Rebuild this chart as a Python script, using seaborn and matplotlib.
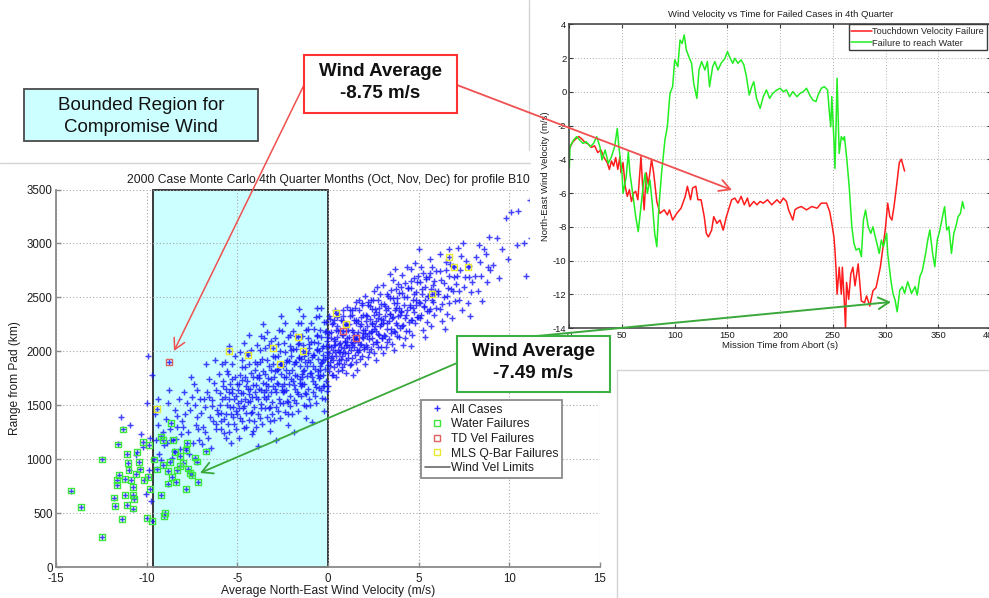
import matplotlib
matplotlib.use("Agg")
import matplotlib.pyplot as plt
import seaborn as sns
import pandas as pd
from matplotlib.patches import Rectangle, FancyArrowPatch
from matplotlib.lines import Line2D

# ------------------------------------------------------------------ data
# Monte Carlo cloud: (average NE wind velocity m/s, range from pad km)
cloud_points = [
    (-11.4, 1390), (-10.9, 1320), (-10.3, 1230), (-10.0, 1520), (-9.9, 1960), (-9.7, 1780),
    (-10.2, 1110), (-9.8, 1200), (-10.6, 1040), (-9.85, 900), (-10.05, 680), (-9.75, 610),
    (-9.5, 1180), (-9.3, 1050), (-9.4, 1320), (-9.1, 1250), (-9.2, 990), (-9.55, 1420), (-9.05, 1130), (-9.35, 1560),
    (-8.9, 1150), (-8.7, 1280), (-8.5, 1080), (-8.3, 1400), (-8.8, 1520), (-8.1, 1230), (-8.6, 1010), (-8.2, 1560),
    (-8.4, 1190), (-8.05, 1350), (-8.75, 1640), (-8.35, 1300),
    (-7.9, 1420), (-7.7, 1250), (-7.5, 1580), (-7.3, 1320), (-7.1, 1180), (-7.85, 1100), (-7.6, 1460), (-7.4, 1700),
    (-7.2, 1390), (-7.05, 1560), (-7.95, 1620), (-7.65, 1050), (-7.35, 1500), (-7.15, 1280), (-7.55, 1760),
    (-6.9, 1300), (-6.8, 1480), (-6.7, 1620), (-6.6, 1200), (-6.5, 1390), (-6.4, 1550), (-6.3, 1710), (-6.2, 1280),
    (-6.1, 1460), (-6.95, 1140), (-6.75, 1880), (-6.55, 1580), (-6.45, 1100), (-6.35, 1350), (-6.25, 1920),
    (-6.15, 1640), (-6.05, 1420), (-6.85, 1560),
    (-5.95, 1500), (-5.9, 1350), (-5.8, 1680), (-5.75, 1240), (-5.7, 1580), (-5.6, 1420), (-5.55, 1820), (-5.5, 1330),
    (-5.45, 1620), (-5.4, 1480), (-5.35, 1150), (-5.3, 1740), (-5.25, 1390), (-5.2, 1560), (-5.15, 1960), (-5.1, 1450),
    (-5.05, 1280), (-5.85, 1880), (-5.65, 1200), (-5.28, 1650), (-5.48, 2050), (-5.02, 1700),
    (-4.95, 1520), (-4.9, 1700), (-4.85, 1380), (-4.8, 1610), (-4.75, 1850), (-4.7, 1470), (-4.65, 1290), (-4.6, 1760),
    (-4.55, 1560), (-4.5, 1430), (-4.45, 1980), (-4.4, 1650), (-4.35, 1360), (-4.3, 1540), (-4.25, 1800), (-4.2, 1230),
    (-4.15, 1690), (-4.1, 1480), (-4.05, 1900), (-4.92, 1200), (-4.62, 2080), (-4.38, 1600), (-4.18, 1440),
    (-4.72, 1730), (-4.02, 1620),
    (-3.95, 1580), (-3.9, 1760), (-3.85, 1420), (-3.8, 1650), (-3.75, 1900), (-3.7, 1510), (-3.65, 1330), (-3.6, 1820),
    (-3.55, 1620), (-3.5, 1470), (-3.45, 2030), (-3.4, 1700), (-3.35, 1390), (-3.3, 1590), (-3.25, 1860), (-3.2, 1260),
    (-3.15, 1740), (-3.1, 1530), (-3.05, 1960), (-3.98, 1300), (-3.68, 2140), (-3.42, 1640), (-3.22, 1480),
    (-3.78, 1780), (-3.02, 1680), (-3.58, 2250), (-3.88, 1120), (-3.12, 2100),
    (-2.95, 1650), (-2.9, 1820), (-2.85, 1480), (-2.8, 1710), (-2.75, 1960), (-2.7, 1560), (-2.65, 1380), (-2.6, 1880),
    (-2.55, 1680), (-2.5, 1520), (-2.45, 2080), (-2.4, 1760), (-2.35, 1440), (-2.3, 1640), (-2.25, 1920), (-2.2, 1320),
    (-2.15, 1800), (-2.1, 1590), (-2.05, 2010), (-2.98, 1360), (-2.68, 2200), (-2.42, 1700), (-2.22, 1530),
    (-2.78, 1840), (-2.02, 1740), (-2.58, 2330), (-2.88, 1180), (-2.12, 2150), (-2.48, 1620), (-2.32, 1900),
    (-1.95, 1720), (-1.9, 1880), (-1.85, 1550), (-1.8, 1780), (-1.75, 2020), (-1.7, 1620), (-1.65, 1450), (-1.6, 1940),
    (-1.55, 1740), (-1.5, 1590), (-1.45, 2140), (-1.4, 1820), (-1.35, 1500), (-1.3, 1700), (-1.25, 1980), (-1.2, 1380),
    (-1.15, 1860), (-1.1, 1650), (-1.05, 2070), (-1.98, 1420), (-1.68, 2260), (-1.42, 1760), (-1.22, 1600),
    (-1.78, 1900), (-1.02, 1800), (-1.58, 2390), (-1.88, 1250), (-1.12, 2210), (-1.48, 1680), (-1.32, 1960),
    (-1.62, 2080), (-1.08, 1920),
    (-0.95, 1800), (-0.9, 1950), (-0.85, 1620), (-0.8, 1860), (-0.75, 2090), (-0.7, 1700), (-0.65, 1520), (-0.6, 2010),
    (-0.55, 1820), (-0.5, 1660), (-0.45, 2200), (-0.4, 1890), (-0.35, 1570), (-0.3, 1780), (-0.25, 2050), (-0.2, 1450),
    (-0.15, 1930), (-0.1, 1720), (-0.05, 2130), (-0.98, 1500), (-0.68, 2320), (-0.42, 1830), (-0.22, 1680),
    (-0.78, 1970), (-0.02, 1870), (-0.58, 2400), (-0.88, 1340), (-0.12, 2270), (-0.48, 1750), (-0.32, 2030),
    (-0.62, 2150), (-0.08, 1990), (-0.28, 1920), (-0.18, 2180), (-0.38, 1640),
    (0.05, 2050), (0.1, 1900), (0.15, 2180), (0.2, 1780), (0.25, 2010), (0.3, 2260), (0.35, 1850), (0.4, 2100),
    (0.45, 1960), (0.5, 2320), (0.55, 1820), (0.6, 2070), (0.65, 2200), (0.7, 1930), (0.75, 2150), (0.8, 1990),
    (0.85, 2380), (0.9, 1880), (0.95, 2090), (0.02, 1680), (0.12, 2300), (0.22, 1960), (0.32, 2060), (0.42, 1760),
    (0.52, 2230), (0.62, 1920), (0.72, 2040), (0.82, 2280), (0.92, 1980), (0.18, 2120), (0.38, 2380), (0.58, 1990),
    (0.78, 1850), (0.98, 2190), (0.08, 1820),
    (1.05, 2120), (1.1, 1980), (1.15, 2250), (1.2, 1870), (1.25, 2090), (1.3, 2340), (1.35, 1940), (1.4, 2180),
    (1.45, 2040), (1.5, 2400), (1.55, 1900), (1.6, 2150), (1.65, 2280), (1.7, 2010), (1.75, 2230), (1.8, 2070),
    (1.85, 2450), (1.9, 1960), (1.95, 2170), (1.02, 1800), (1.22, 2380), (1.42, 2110), (1.62, 1830), (1.82, 2320),
    (1.98, 2040), (1.12, 2200), (1.32, 2060), (1.52, 2260), (1.72, 2480), (1.92, 2120), (1.38, 1780), (1.58, 2010),
    (2.05, 2200), (2.1, 2060), (2.15, 2330), (2.2, 1950), (2.25, 2170), (2.3, 2420), (2.35, 2020), (2.4, 2260),
    (2.45, 2120), (2.5, 2480), (2.55, 1980), (2.6, 2230), (2.65, 2360), (2.7, 2090), (2.75, 2310), (2.8, 2150),
    (2.85, 2530), (2.9, 2040), (2.95, 2250), (2.02, 1880), (2.22, 2460), (2.42, 2190), (2.62, 1920), (2.82, 2400),
    (2.98, 2120), (2.12, 2280), (2.52, 2340), (2.72, 2600),
    (3.05, 2290), (3.1, 2150), (3.15, 2420), (3.2, 2040), (3.25, 2260), (3.3, 2510), (3.35, 2110), (3.4, 2350),
    (3.45, 2210), (3.5, 2570), (3.55, 2070), (3.6, 2320), (3.65, 2450), (3.7, 2180), (3.75, 2400), (3.8, 2240),
    (3.85, 2620), (3.9, 2130), (3.95, 2340), (3.02, 1980), (3.42, 2720), (3.62, 2010), (3.82, 2490), (3.22, 2380),
    (3.72, 2760),
    (4.05, 2370), (4.1, 2230), (4.2, 2500), (4.25, 2120), (4.3, 2340), (4.4, 2590), (4.45, 2190), (4.5, 2430),
    (4.55, 2290), (4.6, 2650), (4.65, 2150), (4.7, 2400), (4.75, 2530), (4.8, 2260), (4.85, 2480), (4.9, 2320),
    (4.95, 2700), (4.15, 2060), (4.35, 2780), (4.58, 2050), (4.78, 2820), (4.02, 2600),
    (5.05, 2450), (5.1, 2310), (5.2, 2580), (5.25, 2200), (5.3, 2420), (5.4, 2670), (5.45, 2270), (5.5, 2510),
    (5.55, 2370), (5.6, 2730), (5.7, 2230), (5.75, 2480), (5.8, 2610), (5.85, 2340), (5.9, 2560), (5.95, 2400),
    (5.15, 2780), (5.35, 2130), (5.65, 2860), (5.02, 2950),
    (6.05, 2530), (6.15, 2390), (6.25, 2660), (6.3, 2280), (6.4, 2500), (6.5, 2750), (6.55, 2350), (6.6, 2590),
    (6.7, 2450), (6.75, 2810), (6.85, 2310), (6.9, 2560), (6.95, 2690), (6.2, 2900), (6.45, 2210), (6.65, 2950),
    (7.05, 2620), (7.2, 2480), (7.3, 2750), (7.4, 2380), (7.5, 2600), (7.6, 2840), (7.7, 2450), (7.8, 2690),
    (7.9, 2550), (7.15, 2960), (7.45, 3000), (7.85, 2330),
    (8.1, 2700), (8.25, 2560), (8.4, 2830), (8.5, 2470), (8.6, 2950), (8.75, 2640), (8.9, 3060), (8.3, 2990),
    (8.8, 2780),
    (9.1, 2800), (9.3, 3050), (9.45, 2680), (9.6, 2950), (9.8, 3240), (9.9, 2860),
    (10.1, 3290), (10.4, 2990), (10.5, 3300), (10.8, 3000), (10.9, 2700), (11.15, 3400), (11.2, 3050), (11.4, 2990),
]

# denser core of the cloud
cloud_core_points = [
    (-8.95, 1370), (-8.65, 1180), (-8.45, 1460), (-8.15, 1090), (-7.98, 1300), (-7.78, 1520), (-7.45, 1150),
    (-7.25, 1640), (-6.98, 1430), (-6.78, 1250), (-6.58, 1740), (-6.38, 1490), (-6.18, 1330), (-6.02, 1790),
    (-5.97, 1610), (-5.92, 1430), (-5.83, 1560), (-5.78, 1720), (-5.71, 1370), (-5.63, 1650), (-5.58, 1500),
    (-5.52, 1790), (-5.88, 1280), (-5.68, 1900),
    (-5.46, 1560), (-5.41, 1700), (-5.37, 1420), (-5.31, 1610), (-5.27, 1880), (-5.22, 1480), (-5.17, 1330),
    (-5.12, 1760), (-5.08, 1590), (-5.03, 1420), (-5.44, 1250),
    (-4.97, 1640), (-4.93, 1470), (-4.87, 1780), (-4.82, 1540), (-4.77, 1350), (-4.73, 1920), (-4.68, 1610),
    (-4.63, 1490), (-4.58, 1850), (-4.53, 1680), (-4.51, 1300), (-4.88, 1990),
    (-4.47, 1720), (-4.42, 1530), (-4.37, 1880), (-4.32, 1650), (-4.27, 1430), (-4.22, 2010), (-4.17, 1580),
    (-4.12, 1760), (-4.07, 1350), (-4.03, 1830), (-4.33, 2150), (-4.14, 1260),
    (-3.97, 1690), (-3.93, 1880), (-3.87, 1560), (-3.83, 1750), (-3.77, 2010), (-3.72, 1640), (-3.67, 1470),
    (-3.63, 1930), (-3.57, 1710), (-3.53, 1580), (-3.51, 2120), (-3.74, 1380), (-3.91, 2060),
    (-3.47, 1790), (-3.43, 1560), (-3.37, 1920), (-3.33, 1680), (-3.27, 1470), (-3.23, 2060), (-3.17, 1620),
    (-3.13, 1830), (-3.07, 1420), (-3.03, 1880), (-3.38, 2180), (-3.19, 1350), (-3.29, 1750),
    (-2.97, 1760), (-2.93, 1950), (-2.87, 1620), (-2.83, 1830), (-2.77, 2070), (-2.73, 1700), (-2.67, 1520),
    (-2.63, 2000), (-2.57, 1790), (-2.53, 1640), (-2.51, 2190), (-2.74, 1450), (-2.91, 2120), (-2.6, 1880),
    (-2.47, 1860), (-2.43, 1630), (-2.37, 1990), (-2.33, 1760), (-2.27, 1540), (-2.23, 2130), (-2.17, 1700),
    (-2.13, 1910), (-2.07, 1490), (-2.03, 1960), (-2.38, 2260), (-2.19, 1420), (-2.29, 1830), (-2.11, 2050),
    (-1.97, 1830), (-1.93, 2020), (-1.87, 1690), (-1.83, 1900), (-1.77, 2140), (-1.73, 1770), (-1.67, 1600),
    (-1.63, 2070), (-1.57, 1860), (-1.53, 1710), (-1.51, 2260), (-1.74, 1520), (-1.91, 2190), (-1.6, 1950),
    (-1.81, 1650),
    (-1.47, 1930), (-1.43, 1700), (-1.37, 2060), (-1.33, 1830), (-1.27, 1610), (-1.23, 2200), (-1.17, 1770),
    (-1.13, 1980), (-1.07, 1560), (-1.03, 2030), (-1.38, 2330), (-1.19, 1490), (-1.29, 1900), (-1.11, 2120),
    (-1.45, 1790),
    (-0.97, 1900), (-0.93, 2090), (-0.87, 1760), (-0.83, 1970), (-0.77, 2210), (-0.73, 1840), (-0.67, 1670),
    (-0.63, 2140), (-0.57, 1930), (-0.53, 1780), (-0.51, 2330), (-0.74, 1590), (-0.91, 2260), (-0.6, 2020),
    (-0.81, 1720), (-0.55, 2080),
    (-0.47, 2000), (-0.43, 1770), (-0.37, 2130), (-0.33, 1900), (-0.27, 1680), (-0.23, 2270), (-0.17, 1840),
    (-0.13, 2050), (-0.07, 1630), (-0.03, 2100), (-0.38, 2400), (-0.19, 1560), (-0.29, 1970), (-0.11, 2190),
    (-0.45, 1860), (-0.04, 1950),
    (0.03, 1980), (0.07, 2170), (0.13, 1860), (0.17, 2040), (0.23, 2250), (0.27, 1920), (0.33, 2110), (0.37, 1990),
    (0.43, 2200), (0.47, 1880), (0.06, 2330), (0.28, 1780), (0.41, 2060), (0.16, 1940), (0.35, 2290), (0.48, 2130),
    (0.53, 2010), (0.57, 2190), (0.63, 1890), (0.67, 2080), (0.73, 2290), (0.77, 1960), (0.83, 2150), (0.87, 2030),
    (0.93, 2240), (0.97, 1920), (0.56, 2350), (0.78, 1830), (0.91, 2100), (0.66, 1990), (0.85, 2330), (0.98, 2060),
    (1.03, 2060), (1.07, 2240), (1.13, 1940), (1.17, 2130), (1.23, 2330), (1.27, 2010), (1.33, 2200), (1.37, 2080),
    (1.43, 2290), (1.47, 1970), (1.06, 2410), (1.28, 1880), (1.41, 2150), (1.16, 2040), (1.35, 2380), (1.48, 2110),
    (1.53, 2110), (1.57, 2290), (1.63, 1990), (1.67, 2180), (1.73, 2380), (1.77, 2060), (1.83, 2250), (1.87, 2130),
    (1.93, 2340), (1.97, 2020), (1.56, 2460), (1.78, 1930), (1.91, 2200), (1.66, 2090), (1.85, 2430),
    (2.03, 2160), (2.07, 2340), (2.13, 2040), (2.17, 2230), (2.23, 2430), (2.27, 2110), (2.33, 2300), (2.37, 2180),
    (2.43, 2390), (2.47, 2070), (2.06, 2510), (2.28, 1990), (2.41, 2250), (2.16, 2140), (2.35, 2480),
    (2.53, 2210), (2.57, 2390), (2.63, 2090), (2.67, 2280), (2.73, 2480), (2.77, 2160), (2.83, 2350), (2.87, 2230),
    (2.93, 2440), (2.97, 2120), (2.56, 2560), (2.78, 2040), (2.91, 2300), (2.66, 2190),
    (3.03, 2260), (3.07, 2440), (3.13, 2140), (3.17, 2330), (3.23, 2530), (3.27, 2210), (3.33, 2400), (3.37, 2280),
    (3.43, 2490), (3.47, 2170), (3.06, 2610), (3.28, 2090), (3.41, 2350),
    (3.53, 2310), (3.57, 2490), (3.63, 2190), (3.67, 2380), (3.73, 2580), (3.77, 2260), (3.83, 2450), (3.87, 2330),
    (3.93, 2540), (3.97, 2220), (3.56, 2660), (3.78, 2140), (3.91, 2400),
    (4.03, 2360), (4.07, 2540), (4.13, 2240), (4.17, 2430), (4.23, 2630), (4.27, 2310), (4.33, 2500), (4.37, 2380),
    (4.43, 2590), (4.47, 2270), (4.06, 2710), (4.28, 2190),
    (4.53, 2410), (4.57, 2590), (4.63, 2290), (4.67, 2480), (4.73, 2680), (4.77, 2360), (4.83, 2550), (4.87, 2430),
    (4.93, 2640), (4.97, 2320), (4.56, 2760),
    (5.03, 2460), (5.07, 2640), (5.13, 2340), (5.17, 2530), (5.23, 2730), (5.27, 2410), (5.33, 2600), (5.37, 2480),
    (5.43, 2690), (5.47, 2370),
    (5.53, 2510), (5.57, 2690), (5.63, 2390), (5.67, 2580), (5.73, 2780), (5.77, 2460), (5.83, 2650), (5.87, 2530),
    (5.93, 2740),
    (6.08, 2560), (6.18, 2740), (6.28, 2440), (6.38, 2630), (6.48, 2830), (6.58, 2510), (6.68, 2700), (6.78, 2580),
    (6.88, 2790), (6.98, 2470),
    (7.1, 2700), (7.25, 2560), (7.35, 2880), (7.55, 2690), (7.75, 2790), (7.95, 2640),
    (8.15, 2870), (8.45, 2700), (8.7, 2900), (8.95, 2750),
]

water_points = [
    (-14.19, 709), (-13.64, 557), (-12.48, 279), (-12.44, 997), (-11.34, 449), (-11.32, 1275), (-11.56, 1136),
    (-11.53, 851), (-11.65, 805), (-11.8, 644), (-11.75, 566), (-11.62, 758), (-11.1, 1046), (-11.05, 966),
    (-11.0, 898), (-11.18, 817), (-10.88, 805), (-10.74, 743), (-10.74, 665), (-11.2, 665), (-11.1, 573),
    (-10.77, 542), (-10.68, 634), (-10.55, 1068), (-10.42, 975), (-10.37, 904), (-10.57, 860), (-10.18, 1161),
    (-10.15, 805), (-10.0, 458), (-9.91, 836), (-9.87, 1130), (-9.82, 727), (-9.72, 430), (-9.6, 997),
    (-9.45, 904), (-9.12, 944), (-9.04, 474), (-8.99, 504), (-8.71, 975), (-8.62, 836), (-8.44, 1068),
    (-8.16, 935), (-7.98, 966), (-7.83, 727), (-8.16, 1028), (-7.7, 913), (-7.52, 851), (-8.35, 898),
    (-8.8, 891), (-9.08, 1176), (-8.53, 1176), (-7.79, 1151), (-7.33, 1015), (-8.8, 774), (-9.2, 665),
    (-8.38, 784), (-7.62, 870), (-7.18, 784), (-6.75, 1071), (-7.84, 1086), (-7.23, 978), (-8.67, 1333),
    (-9.19, 1210),
]
td_points = [(-8.77, 1898), (0.82, 2188), (1.56, 2126)]
mls_points = [
    (-5.46, 2006), (-4.39, 1966), (-3.02, 2028), (-2.63, 1879), (-1.67, 2136), (-1.36, 2006),
    (0.42, 2358), (1.01, 2253), (5.74, 2527), (6.68, 2876), (6.96, 2784), (7.70, 2784), (-9.44, 1463),
]
wind_limits = [-9.65, 0.0]
range_top = 3500

# Wind velocity time histories: (mission time s, NE wind m/s)
red_curve = [
    (0, -3.4), (3, -3.0), (6, -2.8), (9, -2.65), (12, -2.8), (15, -3.0), (18, -3.1), (21, -3.3), (24, -3.2),
    (27, -3.6), (30, -3.45), (33, -3.9), (36, -4.2), (38, -4.6), (40, -4.1), (42, -4.4), (44, -3.9), (46, -4.6),
    (48, -3.85), (49, -4.8), (51, -4.2), (53, -5.6), (55, -6.2), (57, -5.8), (59, -6.5), (61, -6.0), (63, -5.9),
    (65, -6.4), (68, -3.85), (70, -6.1), (71, -7.0), (73, -4.8), (75, -5.5), (78, -4.0), (80, -4.8), (83, -6.5),
    (86, -7.2), (90, -7.0), (93, -7.3), (95, -7.0), (98, -7.6), (102, -7.2), (106, -6.9), (110, -6.2),
    (112, -5.6), (115, -6.4), (117, -5.7), (120, -5.6), (122, -6.4), (125, -6.4), (128, -7.4), (130, -8.4),
    (132, -8.6), (135, -8.2), (137, -7.4), (140, -7.8), (143, -7.6), (146, -8.2), (149, -7.4), (151, -7.0),
    (154, -6.4), (157, -6.3), (160, -6.6), (163, -6.2), (166, -6.7), (169, -6.3), (171, -6.8), (175, -6.5),
    (178, -6.7), (181, -6.5), (184, -6.6), (188, -6.4), (192, -6.7), (197, -6.4), (200, -6.6), (203, -6.3),
    (206, -6.5), (208, -7.0), (210, -7.3), (212, -7.6), (214, -7.0), (216, -6.9), (220, -6.8), (225, -7.0),
    (230, -6.8), (235, -6.9), (239, -6.6), (242, -6.6), (244, -6.6), (247, -7.1), (249, -7.8), (251, -8.6),
    (252, -9.4), (253, -10.5), (254, -12.0), (256, -10.4), (258, -12.0), (259, -10.4), (261, -12.6),
    (262, -14.0), (263, -11.3), (265, -12.3), (267, -10.8), (269, -10.4), (271, -11.5), (274, -10.2),
    (277, -12.4), (280, -12.5), (282, -12.1), (285, -12.7), (288, -11.8), (291, -11.6), (295, -10.4),
    (298, -9.0), (300, -8.0), (302, -6.6), (304, -7.4), (306, -7.6), (308, -6.8), (310, -5.8), (313, -4.2),
    (315, -4.0), (318, -4.7),
]
green_curve = [
    (0, -4.54), (0.7, -3.25), (4, -2.86), (7, -2.66), (10, -2.86), (13, -3.06), (16, -2.96), (20, -3.25),
    (23, -3.06), (26, -2.66), (29, -3.25), (31, -4.04), (34, -3.45), (37, -4.24), (40, -3.85), (43, -3.25),
    (45.5, -2.17), (47, -3.25), (50, -4.83), (51, -6.02), (54, -5.03), (56, -3.55), (57.5, -4.83), (61, -6.42),
    (63, -7.40), (65.4, -8.29), (68, -6.81), (70, -5.62), (72, -4.83), (74, -6.02), (76.5, -5.23), (79, -6.81),
    (81, -8.39), (83, -9.18), (85, -6.81), (87.5, -4.83), (90.7, -2.86), (93, -2.07), (95.5, -0.09), (98, 0.30),
    (100, 1.89), (103, 1.49), (105, 3.07), (107, 2.87), (109, 3.37), (111, 2.48), (114, 1.98), (116, 1.69),
    (118, 0.50), (121, -0.39), (123, 1.29), (125.5, 1.79), (128.6, 1.29), (131, 1.79), (133, 0.30), (136, 1.49),
    (138, 1.79), (141, 1.29), (144, 1.69), (147.6, 1.98), (150, 2.38), (152, 2.08), (155, 1.69), (157, 1.98),
    (160, 1.69), (163, 1.89), (165.6, 1.59), (168, 0.90), (170.7, -0.19), (173, 0.30), (175, 0.60),
    (177.6, -0.39), (181, -0.98), (184, -0.29), (187, 0.11), (190, -0.39), (193, -0.09), (197, 0.11),
    (200, 0.21), (203, 0.01), (206, 0.11), (209, -0.29), (212, 0.01), (216, -0.29), (219, -0.09), (222, 0.01),
    (225, 0.21), (228, -0.19), (231, -0.49), (234, -0.58), (236, -0.19), (239, 0.21), (242, 0.30), (245, 0.11),
    (246.5, -1.08), (248, -2.07), (249, -0.29), (251, -2.86), (252, -4.54), (253, -2.07), (254, 0.80),
    (255, -1.47), (256, -3.65), (258, -2.66), (260, -2.86), (261, -2.66), (263, -3.85), (265.5, -5.62),
    (268, -8.0), (270, -8.98), (272, -9.38), (275, -9.28), (277, -9.77), (279, -7.60), (281, -7.01),
    (283.5, -8.0), (286, -8.39), (288, -8.0), (291, -8.79), (294, -9.58), (296, -8.79), (298, -9.18),
    (301, -8.39), (302, -9.58), (305, -11.16), (307, -11.95), (309, -12.34), (311, -13.04), (313.5, -11.75),
    (316, -11.55), (318, -11.95), (321, -11.26), (324.6, -11.95), (328, -11.55), (330, -12.05), (332.5, -10.96),
    (335, -10.57), (338, -9.58), (340, -8.79), (342, -8.19), (344.6, -9.58), (346.7, -10.37), (349, -8.79),
    (351.5, -8.19), (354.6, -7.21), (356, -6.81), (358, -8.19), (360, -8.0), (362.5, -9.58), (364.7, -8.39),
    (366.6, -8.0), (368.8, -7.40), (371, -7.21), (373, -6.51), (374.5, -6.91),
]

left_xticks = [-15, -10, -5, 0, 5, 10, 15]
left_yticks = [0, 500, 1000, 1500, 2000, 2500, 3000, 3500]
right_xticks = [0, 50, 100, 150, 200, 250, 300, 350, 400]
right_yticks = [-14, -12, -10, -8, -6, -4, -2, 0, 2, 4]

left_legend_labels = ["All Cases", "Water Failures", "TD Vel Failures", "MLS Q-Bar Failures", "Wind Vel Limits"]
right_legend_labels = ["Touchdown Velocity Failure", "Failure to reach Water"]

# ------------------------------------------------------------------ figure
sns.set_theme(style="white")
plt.rcParams["font.family"] = ["Liberation Sans", "DejaVu Sans"]
plt.rcParams["axes.unicode_minus"] = False

W, H = 989, 598
fig = plt.figure(figsize=(W / 100, H / 100), dpi=100)
fig.patch.set_facecolor("white")


def fx(x):
    return x / W


def fy(y):
    return 1 - y / H


TXT = "#1e1e1e"

# ---------------- left scatter
ax1 = fig.add_axes([fx(56), fy(567), (600 - 56) / W, (567 - 189.5) / H])
ax1.set_zorder(1)
ax1.set_facecolor("white")
ax1.add_patch(Rectangle((wind_limits[0], 0), wind_limits[1] - wind_limits[0], range_top,
                        facecolor="#ccffff", edgecolor="#2a2a2a", lw=1.3, zorder=1, clip_on=False))

all_df = pd.DataFrame(cloud_points + cloud_core_points + water_points + td_points + mls_points,
                      columns=["wind", "range"])
water_df = pd.DataFrame(water_points, columns=["wind", "range"])
td_df = pd.DataFrame(td_points, columns=["wind", "range"])
mls_df = pd.DataFrame(mls_points, columns=["wind", "range"])

sns.scatterplot(data=all_df, x="wind", y="range", ax=ax1, marker="+", color="#1414ff",
                s=22, linewidth=1.05, alpha=0.8, zorder=3, legend=False)


def hollow(df, col, lw=1.0, s=18):
    sns.scatterplot(data=df, x="wind", y="range", ax=ax1, marker="s", color=col,
                    s=s, linewidth=lw, zorder=4, legend=False)
    c = ax1.collections[-1]
    c.set_facecolor("none")
    c.set_edgecolor(col)


hollow(water_df, "#3de83d")
hollow(td_df, "#e06060")
hollow(mls_df, "#e8e830")

ax1.set_xlim(-15, 15)
ax1.set_ylim(0, 3500)
ax1.set_xticks(left_xticks)
ax1.set_yticks(left_yticks)
ax1.set_axisbelow("line")
ax1.grid(True, linestyle=(0, (1, 2)), color="#a8a8a8", lw=0.8)
for s in ["top", "right"]:
    ax1.spines[s].set_visible(False)
for s in ["left", "bottom"]:
    ax1.spines[s].set_color("#8a8a8a")
    ax1.spines[s].set_linewidth(1.3)
ax1.tick_params(direction="in", length=3.5, width=1, color="#8a8a8a", labelsize=8.3,
                labelcolor=TXT, left=True, bottom=True)
ax1.tick_params(axis="x", pad=4.5)
ax1.tick_params(axis="y", pad=2.5)
ax1.set_title("2000 Case Monte Carlo 4th Quarter Months (Oct, Nov, Dec) for profile B10",
              fontsize=8.7, color=TXT, pad=5)
ax1.set_xlabel("Average North-East Wind Velocity (m/s)", fontsize=8.7, color=TXT, labelpad=0)
ax1.set_ylabel("Range from Pad (km)", fontsize=8.6, color=TXT, labelpad=4)

handles = [
    Line2D([], [], ls="none", marker="+", color="#3030ff", ms=5, mew=1.0),
    Line2D([], [], ls="none", marker="s", mfc="none", mec="#3de83d", ms=4.2, mew=1.0),
    Line2D([], [], ls="none", marker="s", mfc="none", mec="#e06060", ms=4.2, mew=1.0),
    Line2D([], [], ls="none", marker="s", mfc="none", mec="#e8e830", ms=4.2, mew=1.0),
    Line2D([], [], color="#6a6a6a", lw=1.2),
]
leg1 = ax1.legend(handles, left_legend_labels, loc="upper left", bbox_to_anchor=(fx(421), fy(400)),
                  bbox_transform=fig.transFigure, fontsize=8.7, frameon=True, fancybox=False,
                  edgecolor="#8a8a8a", framealpha=1, borderpad=0.3, labelspacing=0.22,
                  handlelength=2.1, handletextpad=0.1, borderaxespad=0)
leg1.get_frame().set_linewidth(1.3)
for t in leg1.get_texts():
    t.set_color(TXT)

# white background of the inset picture
fig.add_artist(Rectangle((fx(530), fy(370)), (W - 530) / W, 370 / H, transform=fig.transFigure,
                         facecolor="white", edgecolor="none", zorder=2))
# faint picture frame edges
for (xa, ya, xb, yb) in [(0, 163, 530, 163), (529, 0, 529, 150), (617, 370, 989, 370), (617, 370, 617, 598)]:
    fig.add_artist(Line2D([fx(xa), fx(xb)], [fy(ya), fy(yb)], transform=fig.transFigure,
                          color="#d4d4d4", lw=1.0, zorder=2.5))

# ---------------- right inset line chart
ax2 = fig.add_axes([fx(569.3), fy(328), (991 - 569.3) / W, (328 - 24.3) / H])
ax2.set_zorder(3)
ax2.set_facecolor("white")
red_df = pd.DataFrame(red_curve, columns=["t", "v"])
green_df = pd.DataFrame(green_curve, columns=["t", "v"])
sns.lineplot(data=red_df, x="t", y="v", ax=ax2, color="#ff1c1c", lw=1.1, sort=False,
             estimator=None, label=right_legend_labels[0])
sns.lineplot(data=green_df, x="t", y="v", ax=ax2, color="#22ee22", lw=1.1, sort=False,
             estimator=None, label=right_legend_labels[1])
ax2.set_xlim(0, 400)
ax2.set_ylim(-14, 4)
ax2.set_xticks(right_xticks)
ax2.set_yticks(right_yticks)
ax2.grid(True, linestyle=(0, (1, 2)), color="#b0b0b0", lw=0.7)
for s in ax2.spines.values():
    s.set_color("#3c3c3c")
    s.set_linewidth(1.1)
ax2.tick_params(direction="in", length=3, width=0.8, color="#3c3c3c", labelsize=6.8,
                labelcolor=TXT, pad=2, top=True, right=True, left=True, bottom=True)
ax2.set_title("Wind Velocity vs Time for Failed Cases in 4th Quarter", fontsize=6.8, color=TXT, pad=5)
ax2.set_xlabel("Mission Time from Abort (s)", fontsize=6.8, color=TXT, labelpad=1)
ax2.set_ylabel("North-East Wind Velocity (m/s)", fontsize=6.8, color=TXT, labelpad=2)
leg2 = ax2.legend(loc="upper right", bbox_to_anchor=(fx(987), fy(24)), bbox_transform=fig.transFigure,
                  fontsize=6.6, frameon=True, fancybox=False, edgecolor="#3c3c3c", framealpha=1,
                  borderpad=0.3, labelspacing=0.3, handlelength=2.2, handletextpad=0.1, borderaxespad=0)
leg2.get_frame().set_linewidth(1.0)


# ---------------- annotation boxes and arrows
def box(x0, y0, x1, y1, fc, ec, lw):
    fig.add_artist(Rectangle((fx(x0), fy(y1)), (x1 - x0) / W, (y1 - y0) / H, transform=fig.transFigure,
                             facecolor=fc, edgecolor=ec, lw=lw, zorder=6))


def arrow(p0, p1, col, lw):
    fig.add_artist(FancyArrowPatch((fx(p0[0]), fy(p0[1])), (fx(p1[0]), fy(p1[1])),
                                   transform=fig.transFigure, arrowstyle="->,head_length=0.55,head_width=0.3",
                                   mutation_scale=14, color=col, lw=lw, shrinkA=0, shrinkB=0, zorder=5))


box(24, 89, 258, 141, "#ccffff", "#4a4a4a", 1.3)
fig.text(fx(141), fy(105), "Bounded Region for", ha="center", va="center", fontsize=13.5, color="#111111", zorder=7)
fig.text(fx(141), fy(127), "Compromise Wind", ha="center", va="center", fontsize=13.5, color="#111111", zorder=7)

arrow((304, 85), (174, 351), "#f05050", 1.1)
arrow((457, 85), (732, 190), "#f05050", 1.3)
box(304, 55, 457, 113, "white", "#ff3030", 1.5)
fig.text(fx(380.5), fy(72), "Wind Average", ha="center", va="center", fontsize=13.5, fontweight="bold",
         color="#111111", zorder=7)
fig.text(fx(380.5), fy(94), "-8.75 m/s", ha="center", va="center", fontsize=13.5, fontweight="bold",
         color="#111111", zorder=7)

arrow((457, 363), (200, 473), "#3aa83a", 1.3)
arrow((537, 336), (891, 302), "#3aa83a", 1.4)
box(457, 336, 610, 392, "white", "#3cb043", 1.5)
fig.text(fx(533.5), fy(352), "Wind Average", ha="center", va="center", fontsize=13.5, fontweight="bold",
         color="#111111", zorder=7)
fig.text(fx(533.5), fy(374), "-7.49 m/s", ha="center", va="center", fontsize=13.5, fontweight="bold",
         color="#111111", zorder=7)

fig.savefig("out.png", dpi=100)
